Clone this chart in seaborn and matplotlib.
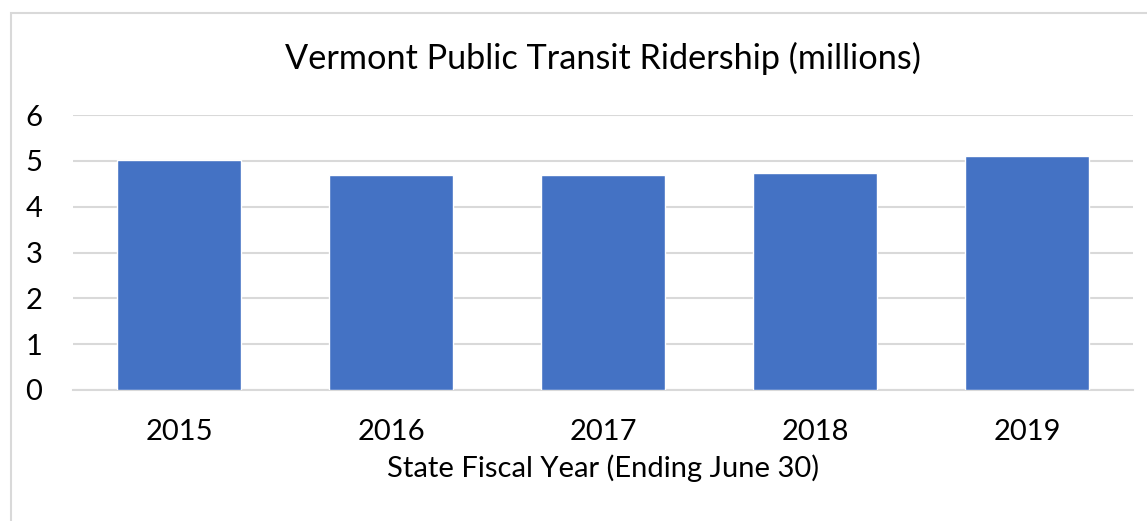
import matplotlib
matplotlib.use("Agg")
import matplotlib.pyplot as plt
import seaborn as sns
import pandas as pd
from matplotlib.patches import Rectangle

# Values
years = ["2015", "2016", "2017", "2018", "2019"]
ridership = [5.02, 4.70, 4.69, 4.73, 5.11]
y_ticks = [0, 1, 2, 3, 4, 5, 6]

df = pd.DataFrame({"year": years, "ridership": ridership})

sns.set_theme(style="white")
plt.rcParams['font.family'] = ['Lato', 'DejaVu Sans']
plt.rcParams['text.color'] = 'black'
plt.rcParams['xtick.color'] = 'black'
plt.rcParams['ytick.color'] = 'black'
plt.rcParams['axes.labelcolor'] = 'black'

grid_col = "#d9d9d9"
bar_col = "#4472C4"

fig = plt.figure(figsize=(11.47, 5.21), dpi=100)
ax = fig.add_axes([73 / 1147, 1 - 390 / 521, (1133 - 73) / 1147, (390 - 115) / 521])

sns.barplot(data=df, x="year", y="ridership", color=bar_col, width=0.585,
            saturation=1, ax=ax, zorder=3)

ax.set_ylim(0, 6)
ax.set_xlim(-0.5, len(years) - 0.5)
ax.set_yticks(y_ticks)
ax.yaxis.grid(True, color=grid_col, linewidth=1.5, zorder=0)
ax.set_axisbelow(True)

for s in ["top", "right", "left"]:
    ax.spines[s].set_visible(False)
ax.spines["bottom"].set_color(grid_col)
ax.spines["bottom"].set_linewidth(1.5)

# x tick marks sit at category boundaries, labels centred on bars
ax.set_xticks([i - 0.5 for i in range(len(years) + 1)], minor=True)
ax.tick_params(axis="x", which="minor", length=7, width=1.5, color=grid_col, direction="out")
ax.tick_params(axis="x", which="major", length=0, pad=21, labelsize=21, labelcolor="black")
ax.tick_params(axis="y", length=0, pad=22, labelsize=21, labelcolor="black")

ax.set_xlabel("State Fiscal Year (Ending June 30)", fontsize=21, labelpad=7, color="black")
ax.set_ylabel("")
ax.set_title("Vermont Public Transit Ridership (millions)", fontsize=24.7, pad=33, color="black")

# chart-area border
fig.patches.append(Rectangle((11 / 1147, -0.05), 1.2, 1 - 13 / 521 + 0.05,
                             transform=fig.transFigure, fill=False,
                             edgecolor=grid_col, linewidth=1.5))

fig.savefig("out.png", dpi=100)
